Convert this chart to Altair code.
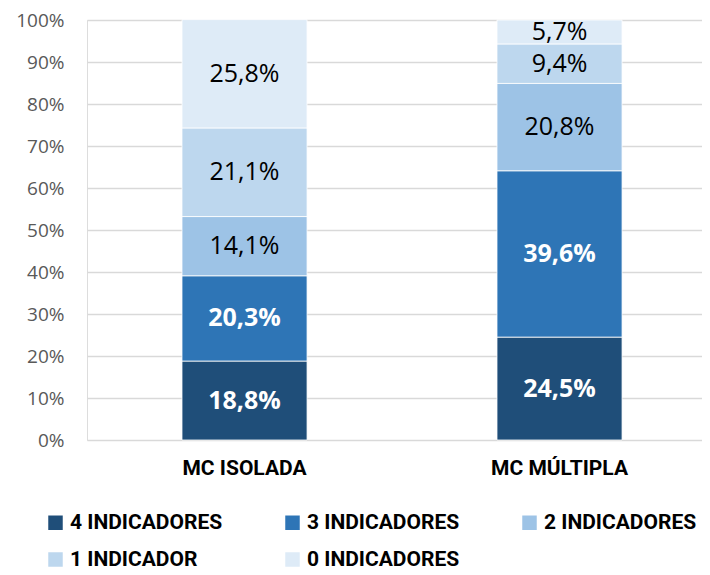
import altair as alt
import pandas as pd

categories = ["MC ISOLADA", "MC MÚLTIPLA"]
series = ["4 INDICADORES", "3 INDICADORES", "2 INDICADORES", "1 INDICADOR", "0 INDICADORES"]
colors = ["#1F4E79", "#2E75B6", "#9DC3E6", "#BDD7EE", "#DEEBF7"]
isolada = [18.8, 20.3, 14.1, 21.1, 25.8]
multipla = [24.5, 39.6, 20.8, 9.4, 5.7]
y_ticks = [0, 10, 20, 30, 40, 50, 60, 70, 80, 90, 100]

rows = []
for cat, vals in zip(categories, [isolada, multipla]):
    for i, (s, v) in enumerate(zip(series, vals)):
        rows.append({
            "cat": cat, "series": s, "value": v, "order": i,
            "label": f"{v:.1f}".replace(".", ",") + "%",
            "dark": i < 2,
        })
df = pd.DataFrame(rows)

FONT = "Roboto, Open Sans, sans-serif"

xscale = alt.Scale(paddingInner=0.603, paddingOuter=0.2777, align=0.543)
x = alt.X("cat:N", sort=categories, title=None, scale=xscale,
          axis=alt.Axis(labelAngle=0, labelFontWeight="bold", labelFontSize=21,
                        labelColor="#000000", labelPadding=17, ticks=False,
                        domain=False, grid=False, labelFont=FONT))

base = alt.Chart(df).transform_stack(
    stack="value", groupby=["cat"], as_=["y0", "y1"],
    sort=[alt.SortField("order", order="ascending")]
).transform_calculate(mid="(datum.y0 + datum.y1) / 2")

yscale = alt.Scale(domain=[0, 100], nice=False)

bars = base.mark_bar(stroke="white", strokeWidth=0.8).encode(
    x=x,
    y=alt.Y("y0:Q", title=None, scale=yscale,
            axis=alt.Axis(values=y_ticks, labelExpr="datum.value + '%'",
                          labelFontSize=19, labelColor="#595959", labelFont="Open Sans",
                          labelPadding=23, ticks=False, domain=False,
                          gridColor="#D9D9D9", gridWidth=1.5)),
    y2="y1:Q",
    color=alt.Color("series:N", sort=series,
                    scale=alt.Scale(domain=series, range=colors),
                    legend=alt.Legend(title=None, orient="none", legendX=-42, legendY=492,
                                      direction="horizontal", columns=3,
                                      gridAlign="all",
                                      symbolType="square", symbolSize=210,
                                      symbolStrokeWidth=0,
                                      labelFontSize=21, labelFontWeight="bold",
                                      labelFont=FONT, labelColor="#000000",
                                      columnPadding=59, rowPadding=15,
                                      labelLimit=300)),
)

text_dark = base.transform_filter("datum.dark").mark_text(
    fontSize=25, fontWeight="bold", color="white", font="Open Sans"
).encode(x=alt.X("cat:N", sort=categories, scale=xscale), y=alt.Y("mid:Q", scale=yscale),
         text="label:N")

text_light = base.transform_filter("!datum.dark").mark_text(
    fontSize=25, color="#000000", font="Open Sans"
).encode(x=alt.X("cat:N", sort=categories, scale=xscale), y=alt.Y("mid:Q", scale=yscale),
         text="label:N")

chart = alt.layer(bars, text_dark, text_light).properties(
    width=615, height=420,
    autosize=alt.AutoSizeParams(type="none"),
    padding={"left": 79, "top": 12, "right": 0, "bottom": 135},
).configure_view(stroke=None).configure(background="white")

chart.save("out.html", embed_options={"renderer": "svg", "actions": False})
